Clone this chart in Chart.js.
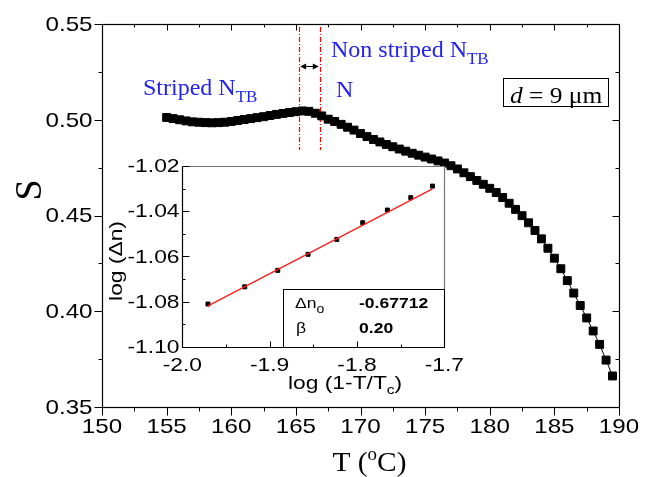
<!DOCTYPE html>
<html>
<head>
<meta charset="utf-8">
<script src="https://cdn.jsdelivr.net/npm/chart.js@4.4.0/dist/chart.umd.min.js"></script>
<style>
  body { margin: 0; background: #fff; }
  #wrap { position: relative; width: 652px; height: 477px; }
  #main { position: absolute; left: 0; top: 0; }
  #inset { position: absolute; left: 100px; top: 150px; }
</style>
</head>
<body>
<div id="wrap">
  <canvas id="main" width="652" height="477"></canvas>
  <canvas id="inset" width="380" height="250"></canvas>
</div>
<script>
// ---- main plot data: order parameter S vs temperature
const temps = [155, 155.5, 156, 156.5, 157, 157.5, 158, 158.5, 159, 159.5,
  160, 160.5, 161, 161.5, 162, 162.5, 163, 163.5, 164, 164.5,
  165, 165.5, 166, 166.5, 167, 167.5, 168, 168.5, 169, 169.5,
  170, 170.5, 171, 171.5, 172, 172.5, 173, 173.5, 174, 174.5,
  175, 175.5, 176, 176.5, 177, 177.5, 178, 178.5, 179, 179.5,
  180, 180.5, 181, 181.5, 182, 182.5, 183, 183.5, 184, 184.5,
  185, 185.5, 186, 186.5, 187, 187.5, 188, 188.5, 189, 189.5];
const orderS = [.5012, .5006, .5000, .4994, .4989, .4987, .4985, .4984, .4985, .4987,
  .4991, .4996, .5001, .5006, .5011, .5016, .5022, .5028, .5033, .5038,
  .5042, .5046, .5044, .5034, .5020, .5003, .4991, .4976, .4961, .4946,
  .4928, .4912, .4897, .4884, .4871, .4859, .4847, .4836, .4825, .4815,
  .4805, .4795, .4785, .4774, .4760, .4743, .4723, .4703, .4683, .4663,
  .4642, .4620, .4594, .4564, .4532, .4499, .4462, .4422, .4378, .4329,
  .4277, .4222, .4160, .4095, .4030, .3965, .3897, .3827, .3745, .3662];
const xTickVals = [150, 155, 160, 165, 170, 175, 180, 185, 190];
const yTickVals = [0.35, 0.40, 0.45, 0.50, 0.55];
// transition markers (dash-dot lines) and arrow height
const transT = [165.25, 166.85];
const transTop = 0.5484, transBottom = 0.4842, arrowS = 0.5282;

// ---- inset data: log(dn) vs log(1-T/Tc)
const logX = [-1.9706, -1.9285, -1.8907, -1.856, -1.8231, -1.7934, -1.7652, -1.7384, -1.7136];
const logDn = [-1.0811, -1.0735, -1.0662, -1.0591, -1.0525, -1.0451, -1.0395, -1.034, -1.0289];
const fitX = [-1.9706, -1.7136];
const fitY = [-1.0819, -1.0301];
const insetXTicks = [-2.0, -1.9, -1.8, -1.7];
const insetYTicks = [-1.10, -1.08, -1.06, -1.04, -1.02];

const BLUE = '#2424ee';

// text helpers (fonts in the original are drawn a bit wide)
function drawRich(ctx, segs, x, y, sx) {
  ctx.save();
  ctx.textBaseline = 'alphabetic';
  ctx.textAlign = 'left';
  let cx = x;
  segs.forEach(s => {
    ctx.font = s.f;
    ctx.save();
    ctx.translate(cx, y + (s.dy || 0));
    ctx.scale(sx, 1);
    ctx.fillText(s.t, 0, 0);
    ctx.restore();
    cx += ctx.measureText(s.t).width * sx;
  });
  ctx.restore();
  return cx;
}
function richWidth(ctx, segs, sx) {
  let w = 0;
  ctx.save();
  segs.forEach(s => { ctx.font = s.f; w += ctx.measureText(s.t).width * sx; });
  ctx.restore();
  return w;
}
function stretchText(ctx, txt, x, y, align, base, sx) {
  ctx.save();
  ctx.translate(x, y);
  ctx.scale(sx, 1);
  ctx.textAlign = align;
  ctx.textBaseline = base;
  ctx.fillText(txt, 0, 0);
  ctx.restore();
}

function setTicks(vals) {
  return s => { s.ticks = vals.map(v => ({ value: v })); };
}

// ---- main chart frame, ticks, labels, annotations
const mainDeco = {
  id: 'mainDeco',
  beforeDatasetsDraw(chart) {
    const ctx = chart.ctx, xs = chart.scales.x, ys = chart.scales.y;
    ctx.save();
    ctx.strokeStyle = '#ff0000';
    ctx.lineWidth = 1.2;
    ctx.setLineDash([5, 2, 1, 2]);
    transT.forEach(t => {
      const px = Math.round(xs.getPixelForValue(t)) + 0.5;
      ctx.beginPath();
      ctx.moveTo(px, ys.getPixelForValue(transTop));
      ctx.lineTo(px, ys.getPixelForValue(transBottom));
      ctx.stroke();
    });
    ctx.setLineDash([]);
    // double arrow
    const x1 = xs.getPixelForValue(transT[0]) + 1, x2 = xs.getPixelForValue(transT[1]) - 1;
    const ay = Math.round(ys.getPixelForValue(arrowS)) + 0.5;
    ctx.strokeStyle = '#000';
    ctx.fillStyle = '#000';
    ctx.lineWidth = 1;
    ctx.beginPath(); ctx.moveTo(x1 + 3, ay); ctx.lineTo(x2 - 3, ay); ctx.stroke();
    ctx.beginPath(); ctx.moveTo(x1, ay); ctx.lineTo(x1 + 6, ay - 3); ctx.lineTo(x1 + 6, ay + 3); ctx.closePath(); ctx.fill();
    ctx.beginPath(); ctx.moveTo(x2, ay); ctx.lineTo(x2 - 6, ay - 3); ctx.lineTo(x2 - 6, ay + 3); ctx.closePath(); ctx.fill();
    ctx.restore();
  },
  afterDraw(chart) {
    const ctx = chart.ctx, a = chart.chartArea, xs = chart.scales.x, ys = chart.scales.y;
    const L = Math.round(a.left) + 0.5, R = Math.round(a.right) + 0.5;
    const T = Math.round(a.top) + 0.5, B = Math.round(a.bottom) + 0.5;
    ctx.save();
    ctx.strokeStyle = '#000';
    ctx.lineWidth = 1.2;
    ctx.strokeRect(L, T, R - L, B - T);
    ctx.lineWidth = 1;
    ctx.beginPath();
    const xt = xs.ticks.map(t => t.value);
    xt.forEach((v, i) => {
      const px = Math.round(xs.getPixelForValue(v)) + 0.5;
      ctx.moveTo(px, B); ctx.lineTo(px, B + 8);
      ctx.moveTo(px, T); ctx.lineTo(px, T + 6);
      if (i < xt.length - 1) {
        const pm = Math.round(xs.getPixelForValue((v + xt[i + 1]) / 2)) + 0.5;
        ctx.moveTo(pm, B); ctx.lineTo(pm, B + 4);
        ctx.moveTo(pm, T); ctx.lineTo(pm, T + 3);
      }
    });
    const yt = ys.ticks.map(t => t.value);
    yt.forEach((v, i) => {
      const py = Math.round(ys.getPixelForValue(v)) + 0.5;
      ctx.moveTo(L, py); ctx.lineTo(L - 8, py);
      ctx.moveTo(R, py); ctx.lineTo(R - 7, py);
      if (i < yt.length - 1) {
        const pm = Math.round(ys.getPixelForValue((v + yt[i + 1]) / 2)) + 0.5;
        ctx.moveTo(L, pm); ctx.lineTo(L - 4, pm);
        ctx.moveTo(R, pm); ctx.lineTo(R - 4, pm);
      }
    });
    ctx.stroke();

    // tick labels
    ctx.fillStyle = '#000';
    ctx.font = '21px "Liberation Sans", Arial, sans-serif';
    xt.forEach(v => stretchText(ctx, String(v), xs.getPixelForValue(v), B + 25, 'center', 'alphabetic', 1.15));
    yt.forEach(v => stretchText(ctx, v.toFixed(2), L - 10, ys.getPixelForValue(v) + 1, 'right', 'middle', 1.15));

    // axis titles
    const tf = '"Liberation Serif", "Times New Roman", serif';
    const xTitle = [{ t: 'T (', f: '28px ' + tf }, { t: 'o', f: '18px ' + tf, dy: -11 }, { t: 'C)', f: '28px ' + tf }];
    const w = richWidth(ctx, xTitle, 1.05);
    drawRich(ctx, xTitle, (a.left + a.right) / 2 - w / 2 + 9, 471, 1.05);
    ctx.save();
    ctx.translate(41, 190);
    ctx.rotate(-Math.PI / 2);
    ctx.font = '38px ' + tf;
    ctx.textAlign = 'center';
    ctx.textBaseline = 'alphabetic';
    ctx.fillText('S', 0, 0);
    ctx.restore();

    // blue annotations
    ctx.fillStyle = BLUE;
    drawRich(ctx, [{ t: 'Striped N', f: '24px ' + tf }, { t: 'TB', f: '17px ' + tf, dy: 7 }], 143, 95, 1.0);
    drawRich(ctx, [{ t: 'Non striped N', f: '24px ' + tf }, { t: 'TB', f: '17px ' + tf, dy: 7 }], 331, 56.5, 1.0);
    drawRich(ctx, [{ t: 'N', f: '24px ' + tf }], 336, 97, 1.0);

    // thickness box
    ctx.fillStyle = '#000';
    ctx.lineWidth = 1;
    ctx.strokeRect(503.5, 78.5, 105, 28);
    drawRich(ctx, [{ t: 'd', f: 'italic 24px ' + tf }, { t: ' = 9 \u03bcm', f: '24px ' + tf }], 510, 103, 1.06);
    ctx.restore();
  }
};

new Chart(document.getElementById('main'), {
  type: 'scatter',
  data: {
    datasets: [{
      data: temps.map((t, i) => ({ x: t, y: orderS[i] })),
      showLine: true,
      borderColor: '#000',
      borderWidth: 1,
      backgroundColor: '#000',
      pointStyle: 'rect',
      pointRadius: 5.6,
      pointHoverRadius: 5.6
    }]
  },
  options: {
    responsive: false,
    animation: false,
    events: [],
    layout: { padding: { left: 0, top: 24, right: 33, bottom: 0 } },
    plugins: { legend: { display: false }, tooltip: { enabled: false } },
    scales: {
      x: {
        type: 'linear', min: 150, max: 190,
        afterBuildTicks: setTicks(xTickVals),
        afterFit(s) { s.height = 70; },
        ticks: { display: false },
        grid: { display: false },
        border: { display: false }
      },
      y: {
        min: 0.35, max: 0.55,
        afterBuildTicks: setTicks(yTickVals),
        afterFit(s) { s.width = 102; },
        ticks: { display: false },
        grid: { display: false },
        border: { display: false }
      }
    }
  },
  plugins: [mainDeco]
});

// ---- inset chart
const insetDeco = {
  id: 'insetDeco',
  beforeDraw(chart) {
    const ctx = chart.ctx, a = chart.chartArea;
    ctx.save();
    ctx.fillStyle = '#fff';
    ctx.fillRect(a.left, a.top, a.right - a.left, a.bottom - a.top);
    ctx.restore();
  },
  afterDraw(chart) {
    const ctx = chart.ctx, a = chart.chartArea, xs = chart.scales.x, ys = chart.scales.y;
    const L = Math.round(a.left) + 0.5, R = Math.round(a.right) + 0.5;
    const T = Math.round(a.top) + 0.5, B = Math.round(a.bottom) + 0.5;
    ctx.save();
    ctx.lineWidth = 1.2;
    ctx.strokeStyle = '#777';
    ctx.beginPath(); ctx.moveTo(L, T); ctx.lineTo(R, T); ctx.lineTo(R, B); ctx.stroke();
    ctx.strokeStyle = '#000';
    ctx.beginPath(); ctx.moveTo(L, T); ctx.lineTo(L, B); ctx.lineTo(R, B); ctx.stroke();
    ctx.lineWidth = 1;
    ctx.beginPath();
    const xt = xs.ticks.map(t => t.value);
    xt.forEach((v, i) => {
      const px = Math.round(xs.getPixelForValue(v)) + 0.5;
      ctx.moveTo(px, B); ctx.lineTo(px, B - 6);
      if (i < xt.length - 1) {
        const pm = Math.round(xs.getPixelForValue((v + xt[i + 1]) / 2)) + 0.5;
        ctx.moveTo(pm, B); ctx.lineTo(pm, B - 3);
      }
    });
    const yt = ys.ticks.map(t => t.value);
    yt.forEach((v, i) => {
      const py = Math.round(ys.getPixelForValue(v)) + 0.5;
      ctx.moveTo(L, py); ctx.lineTo(L + 7, py);
      if (i < yt.length - 1) {
        const pm = Math.round(ys.getPixelForValue((v + yt[i + 1]) / 2)) + 0.5;
        ctx.moveTo(L, pm); ctx.lineTo(L + 3, pm);
      }
    });
    ctx.stroke();

    ctx.fillStyle = '#000';
    const sf = '"Liberation Sans", Arial, sans-serif';
    ctx.font = '19px ' + sf;
    xt.forEach(v => stretchText(ctx, v.toFixed(1), xs.getPixelForValue(v), B + 23, 'center', 'alphabetic', 1.2));
    yt.forEach(v => stretchText(ctx, v.toFixed(2), L - 3, ys.getPixelForValue(v) + 1, 'right', 'middle', 1.2));

    // axis titles
    drawRich(ctx, [{ t: 'log (1-T/T', f: '19px ' + sf }, { t: 'c', f: '13px ' + sf, dy: 5 }, { t: ')', f: '19px ' + sf }], 188, B + 41, 1.2);
    ctx.save();
    ctx.translate(17, 111);
    ctx.rotate(-Math.PI / 2);
    ctx.scale(1.2, 1);
    ctx.font = '19px ' + sf;
    ctx.textAlign = 'center';
    ctx.textBaseline = 'middle';
    ctx.fillText('log (\u0394n)', 0, 0);
    ctx.restore();

    // fit parameter box
    ctx.lineWidth = 1;
    ctx.strokeStyle = '#000';
    ctx.strokeRect(183.5, 139.5, R - 183.5, B - 139.5);
    drawRich(ctx, [{ t: '\u0394n', f: '15px ' + sf }, { t: 'o', f: '12px ' + sf, dy: 5 }], 195, 158, 1.17);
    drawRich(ctx, [{ t: '-0.67712', f: 'bold 15px ' + sf }], 259, 158, 1.17);
    drawRich(ctx, [{ t: '\u03b2', f: '15px ' + sf }], 196, 183, 1.17);
    drawRich(ctx, [{ t: '0.20', f: 'bold 15px ' + sf }], 259, 183, 1.17);
    ctx.restore();
  }
};

new Chart(document.getElementById('inset'), {
  type: 'scatter',
  data: {
    datasets: [{
      data: fitX.map((x, i) => ({ x: x, y: fitY[i] })),
      showLine: true,
      borderColor: '#ff1a1a',
      borderWidth: 1.3,
      pointRadius: 0
    }, {
      data: logX.map((x, i) => ({ x: x, y: logDn[i] })),
      showLine: false,
      backgroundColor: '#000',
      borderColor: '#000',
      pointStyle: 'rect',
      pointRadius: 2.8,
      pointHoverRadius: 2.8
    }]
  },
  options: {
    responsive: false,
    animation: false,
    events: [],
    layout: { padding: { left: 0, top: 16, right: 35.7, bottom: 0 } },
    plugins: { legend: { display: false }, tooltip: { enabled: false } },
    scales: {
      x: {
        type: 'linear', min: -2.0, max: -1.7,
        afterBuildTicks: setTicks(insetXTicks),
        afterFit(s) { s.height = 53.3; },
        ticks: { display: false },
        grid: { display: false },
        border: { display: false }
      },
      y: {
        min: -1.10, max: -1.02,
        afterBuildTicks: setTicks(insetYTicks),
        afterFit(s) { s.width = 82.3; },
        ticks: { display: false },
        grid: { display: false },
        border: { display: false }
      }
    }
  },
  plugins: [insetDeco]
});
</script>
</body>
</html>
